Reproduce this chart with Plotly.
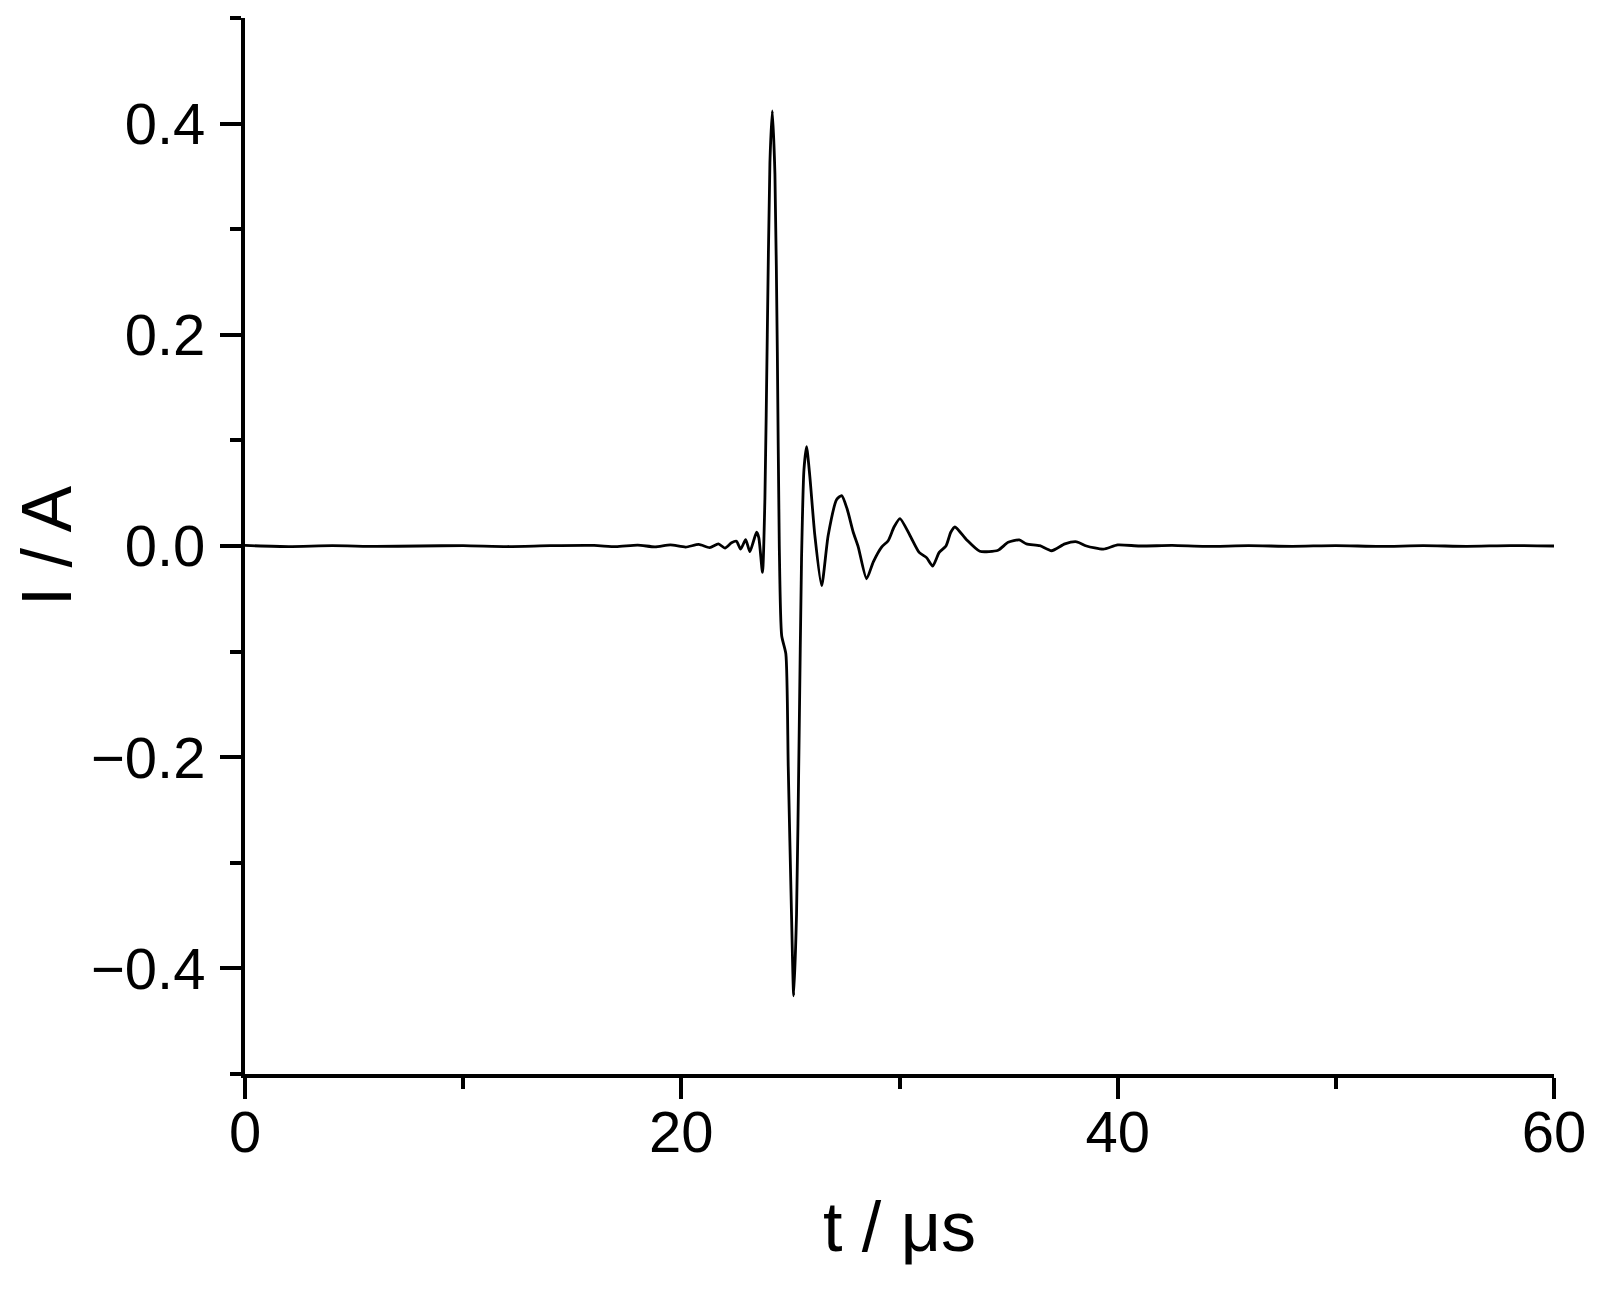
import plotly.graph_objects as go

# time in microseconds
t_us = [0.0, 2.0, 4.0, 6.0, 8.0, 10.0, 12.0, 14.0, 16.0, 17.0, 18.0, 18.8, 19.5,
        20.2, 20.8, 21.3, 21.7, 22.0, 22.3, 22.53, 22.72, 22.95, 23.14, 23.3,
        23.45, 23.55, 23.72, 23.83, 23.94, 24.06, 24.17, 24.29, 24.40, 24.49,
        24.60, 24.79, 24.90, 25.05, 25.15, 25.28, 25.40, 25.51, 25.62, 25.74,
        25.89, 26.12, 26.43, 26.73, 27.12, 27.35, 27.6, 27.88, 28.11, 28.49,
        28.8, 29.18, 29.48, 29.75, 30.02, 30.48, 30.9, 31.24, 31.52, 31.82,
        32.13, 32.35, 32.54, 33.07, 33.68, 34.52, 34.98, 35.49, 35.82, 36.43,
        36.97, 37.58, 38.12, 38.57, 39.34, 40.0, 41.0, 42.5, 44.0, 46.0, 48.0,
        50.0, 52.0, 54.0, 56.0, 58.0, 60.0]

# current in ampere
current_A = [0.0005, -0.0005, 0.0003, -0.0004, 0.0, 0.0004, -0.0005, 0.0003,
             0.0005, -0.0006, 0.0008, -0.0008, 0.001, -0.001, 0.0015, -0.0015,
             0.002, -0.002, 0.003, 0.0044, -0.003, 0.006, -0.0054, 0.004,
             0.013, 0.008, -0.025, 0.044, 0.20, 0.363, 0.412, 0.352, 0.184,
             0.0, -0.085, -0.102, -0.209, -0.349, -0.426, -0.349, -0.18,
             -0.012, 0.072, 0.094, 0.066, 0.010, -0.0376, 0.010, 0.044, 0.0477,
             0.035, 0.013, -0.001, -0.031, -0.015, -0.001, 0.005, 0.018, 0.026,
             0.010, -0.006, -0.011, -0.019, -0.006, 0.000, 0.013, 0.018, 0.006,
             -0.005, -0.004, 0.0035, 0.0057, 0.002, 0.0003, -0.0045, 0.002,
             0.004, 0.000, -0.003, 0.001, 0.0, 0.0005, -0.0004, 0.0003, -0.0003,
             0.0004, -0.0004, 0.0003, -0.0003, 0.0004, 0.0]

x_ticks = [0, 20, 40, 60]
y_ticks = [-0.4, -0.2, 0.0, 0.2, 0.4]
y_tick_labels = ["\u22120.4", "\u22120.2", "0.0", "0.2", "0.4"]

FONT = "Liberation Sans, Arial, sans-serif"

fig = go.Figure()
fig.add_trace(go.Scatter(x=t_us, y=current_A, mode="lines",
                         line=dict(color="black", width=2.8, shape="spline", smoothing=0.6),
                         showlegend=False))

# page body has an 8 px margin, so the figure is offset by 8 px
fig.update_layout(
    width=1587, height=1278,
    margin=dict(l=237, r=41, t=10, b=212),
    paper_bgcolor="white", plot_bgcolor="white",
    font=dict(family=FONT, color="black", size=58),
)
fig.update_xaxes(
    range=[0, 60], tickvals=x_ticks, ticktext=[str(v) for v in x_ticks],
    showgrid=False, zeroline=False, showline=True, linecolor="black", linewidth=4,
    ticks="outside", ticklen=21, tickwidth=4, tickcolor="black",
    minor=dict(dtick=10, tick0=0, ticks="outside", ticklen=11, tickwidth=4, tickcolor="black"),
    tickfont=dict(size=58, family=FONT), ticklabelstandoff=-17, automargin=False,
    title=dict(text="t / \u03bcs", font=dict(size=70, family=FONT), standoff=40),
)
fig.update_yaxes(
    range=[-0.5, 0.5], tickvals=y_ticks, ticktext=y_tick_labels,
    showgrid=False, zeroline=False, showline=True, linecolor="black", linewidth=4,
    ticks="outside", ticklen=21, tickwidth=4, tickcolor="black",
    minor=dict(dtick=0.1, tick0=0, ticks="outside", ticklen=11, tickwidth=4, tickcolor="black"),
    tickfont=dict(size=58, family=FONT), ticklabelstandoff=3, automargin=False,
    title=dict(text="I / A", font=dict(size=70, family=FONT), standoff=20),
)

fig.write_html("out.html")
